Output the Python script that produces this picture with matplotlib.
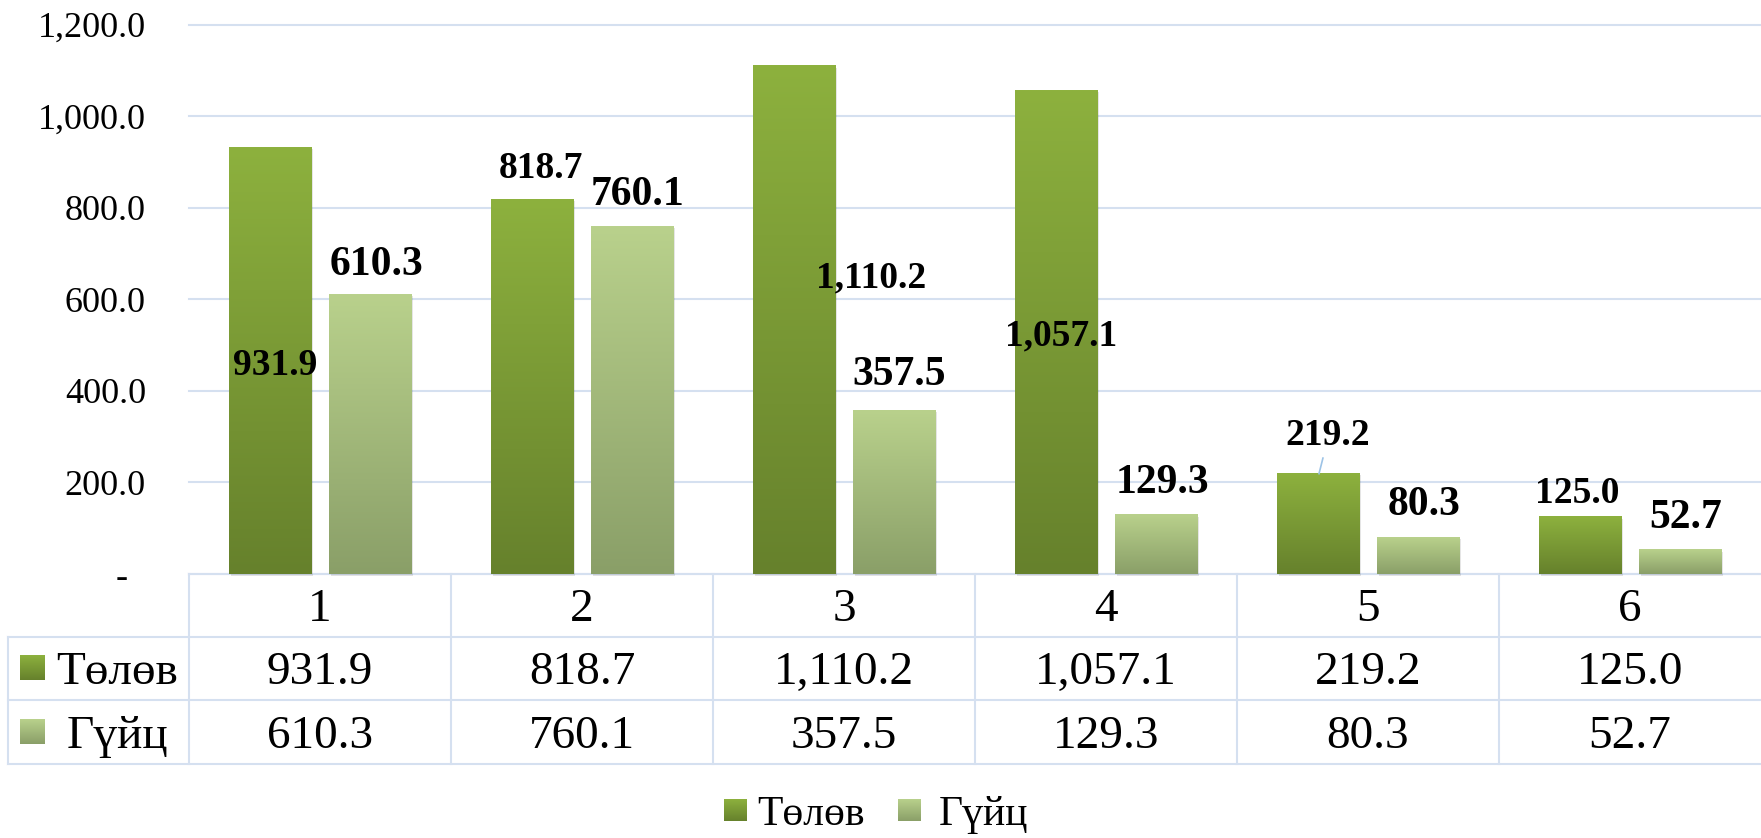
import numpy as np
import matplotlib
matplotlib.use("Agg")
import matplotlib.pyplot as plt
from matplotlib.colors import LinearSegmentedColormap
from matplotlib.patches import Rectangle
from matplotlib.ticker import FuncFormatter, MultipleLocator

plt.rcParams['font.family'] = ['Liberation Serif', 'DejaVu Serif']

# データ
categories = ["1", "2", "3", "4", "5", "6"]
series_names = ["Төлөв", "Гүйц"]
tolov = [931.9, 818.7, 1110.2, 1057.1, 219.2, 125.0]
guits = [610.3, 760.1, 357.5, 129.3, 80.3, 52.7]

# ラベル位置（レイアウト用）
lab_dx = [[-0.172, -0.156, 0.103, -0.172, -0.153, -0.202],
          [0.214, 0.21, 0.21, 0.214, 0.214, 0.214]]
lab_y = [[435, 865, 627, 500, 282, 155],
         [653, 806, 413, 177, 129, 100]]
lab_size = [27, 30]

W, H = 1761, 838
L, R, T, B = 189, 1761, 24.7, 574
grid_c = '#D5E0F0'
top_c = ['#8DB13E', '#B9D18C']
bot_c = ['#66812C', '#8A9F68']
cmaps = [LinearSegmentedColormap.from_list('c%d' % i, [bot_c[i], top_c[i]]) for i in range(2)]
grad = np.linspace(0, 1, 256).reshape(-1, 1)

fig = plt.figure(figsize=(W / 100, H / 100), dpi=100)

# 表とレジェンド用のピクセル座標の軸
ov = fig.add_axes([0, 0, 1, 1])
ov.set_zorder(1)

ax = fig.add_axes([L / W, 1 - B / H, (R - L) / W, (B - T) / H])
ax.set_zorder(2)
ax.patch.set_alpha(0)

# 棒グラフ
n = len(categories)
x = np.arange(n)
bw = 0.313
off = [-0.191, 0.191]
for s, vals in enumerate([tolov, guits]):
    bars = ax.bar(x + off[s], vals, bw, color='none', zorder=2)
    for b in bars:
        x0, h = b.get_x(), b.get_height()
        ax.add_patch(Rectangle((x0 + 0.008, -4), bw, h, color='black', alpha=0.10,
                               lw=0, zorder=1.5, clip_on=False))
        ax.imshow(grad, extent=[x0, x0 + bw, 0, h], origin='lower', aspect='auto',
                  cmap=cmaps[s], zorder=2)
    for i, v in enumerate(vals):
        ax.text(i + lab_dx[s][i], lab_y[s][i], f'{v:,.1f}', ha='center', va='baseline',
                fontsize=lab_size[s], fontweight='bold', zorder=5)

# 引き出し線 (219.2)
ax.plot([4 + off[0] + 0.019, 4 + off[0] + 0.004], [tolov[4] + 34, tolov[4]],
        color='#9DC3E6', lw=1.2, zorder=4)

ax.set_xlim(-0.5, n - 0.5)
ax.set_ylim(0, 1200)
ax.yaxis.set_major_locator(MultipleLocator(200))
ax.yaxis.set_major_formatter(FuncFormatter(lambda v, p: '-  ' if v == 0 else f'{v:,.1f}'))
ax.tick_params(axis='y', length=0, pad=31, labelsize=26)
ax.set_xticks([])
for sp in ax.spines.values():
    sp.set_visible(False)
ax.grid(axis='y', color=grid_c, lw=1.5)
ax.set_axisbelow(True)
for gl in ax.get_ygridlines():
    gl.set_clip_on(False)

# データテーブル
cols = [L + i * (R - L) / n for i in range(n + 1)]
row_y = [B, 636.5, 700, 764]
lw_t = 1.5
ov.plot([L, R], [B, B], color=grid_c, lw=lw_t)
for y in row_y[1:]:
    ov.plot([8, R], [y, y], color=grid_c, lw=lw_t)
for xc in cols[:-1]:
    ov.plot([xc, xc], [B, row_y[-1]], color=grid_c, lw=lw_t)
ov.plot([8, 8], [row_y[1], row_y[-1]], color=grid_c, lw=lw_t)

for i, c in enumerate(categories):
    xc = (cols[i] + cols[i + 1]) / 2
    ov.text(xc, 621, c, ha='center', va='baseline', fontsize=34)
    ov.text(xc, 684, f'{tolov[i]:,.1f}', ha='center', va='baseline', fontsize=34)
    ov.text(xc, 748, f'{guits[i]:,.1f}', ha='center', va='baseline', fontsize=34)

for s, name in enumerate(series_names):
    yb = [684, 748][s]
    ov.imshow(grad, extent=[20, 45, yb - 4, yb - 29], origin='lower', aspect='auto', cmap=cmaps[s])
    ov.text(117, yb, name, ha='center', va='baseline', fontsize=34)

# 凡例
leg_x = [724, 898]
for s, name in enumerate(series_names):
    ov.imshow(grad, extent=[leg_x[s], leg_x[s] + 23, 821, 799], origin='lower', aspect='auto',
              cmap=cmaps[s])
    ov.text(leg_x[s] + 33 + 8 * s, 825, name, ha='left', va='baseline', fontsize=30)

ov.set_xlim(0, W)
ov.set_ylim(H, 0)
ov.axis('off')

fig.savefig('out.png', dpi=100)
